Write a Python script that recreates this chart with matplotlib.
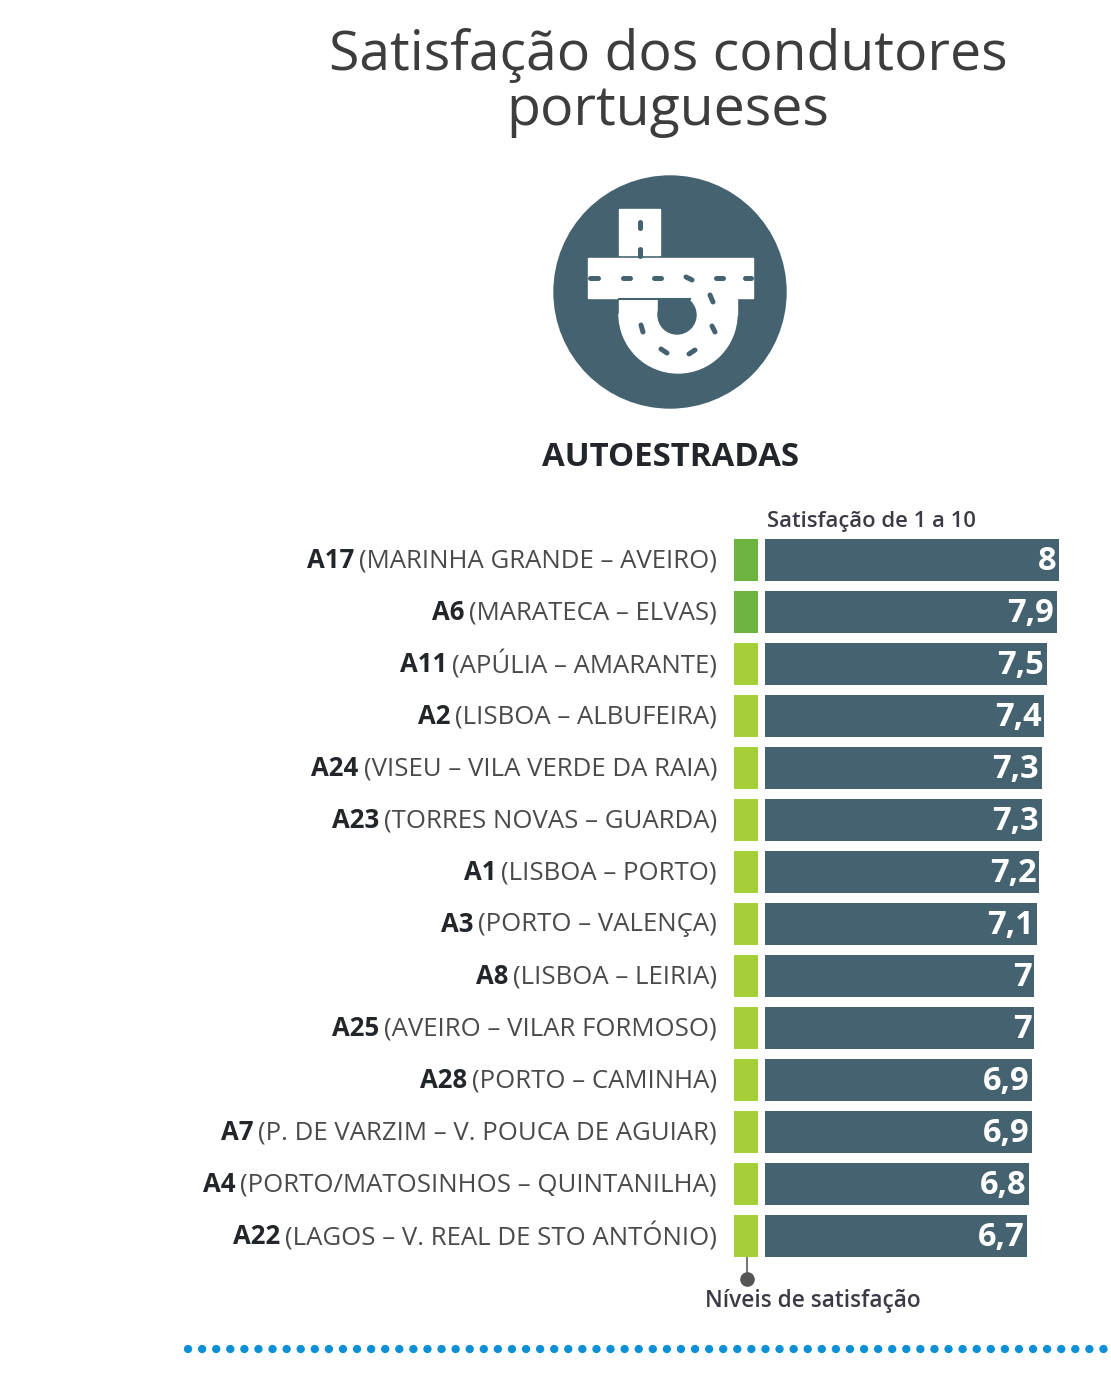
# -*- coding: utf-8 -*-
import matplotlib
matplotlib.use('Agg')
import matplotlib.pyplot as plt
from matplotlib.patches import Circle, Rectangle, Wedge

# Data
codes = ['A17', 'A6', 'A11', 'A2', 'A24', 'A23', 'A1', 'A3', 'A8', 'A25', 'A28', 'A7', 'A4', 'A22']
routes = ['(MARINHA GRANDE – AVEIRO)', '(MARATECA – ELVAS)', '(APÚLIA – AMARANTE)',
          '(LISBOA – ALBUFEIRA)', '(VISEU – VILA VERDE DA RAIA)', '(TORRES NOVAS – GUARDA)',
          '(LISBOA – PORTO)', '(PORTO – VALENÇA)', '(LISBOA – LEIRIA)',
          '(AVEIRO – VILAR FORMOSO)', '(PORTO – CAMINHA)', '(P. DE VARZIM – V. POUCA DE AGUIAR)',
          '(PORTO/MATOSINHOS – QUINTANILHA)', '(LAGOS – V. REAL DE STO ANTÓNIO)']
satisfaction = [8, 7.9, 7.5, 7.4, 7.3, 7.3, 7.2, 7.1, 7, 7, 6.9, 6.9, 6.8, 6.7]
value_labels = ['8', '7,9', '7,5', '7,4', '7,3', '7,3', '7,2', '7,1', '7', '7', '6,9', '6,9', '6,8', '6,7']
level_colors = ['#6cb33f', '#6cb33f'] + ['#a6ce39'] * 12

W, H = 1111, 1377
BLUE = '#44626f'
FONT = 'Open Sans'

fig = plt.figure(figsize=(W / 100, H / 100), dpi=100)

# full figure axes in pixels, for everything that is not a bar
bg = fig.add_axes([0, 0, 1, 1])
bg.set_xlim(0, W)
bg.set_ylim(H, 0)
bg.axis('off')


def px_axes(left, top, right, bottom):
    return fig.add_axes([left / W, 1 - bottom / H, (right - left) / W, (bottom - top) / H])


# title
bg.text(668, 83, 'Satisfação dos condutores\nportugueses', ha='center', va='center',
        fontsize=39.9, family=FONT, color='#3d3d3d', linespacing=0.98)

# icon
bg.add_patch(Circle((670, 292), 116, color=BLUE))
bg.add_patch(Rectangle((619, 209), 41, 46, color='white'))
bg.add_patch(Wedge((678, 314), 59, 0, 180, color='white'))
bg.add_patch(Rectangle((619, 296), 118, 19, color='white'))
bg.add_patch(Circle((677, 315), 19, color=BLUE))
bg.add_patch(Rectangle((658, 298), 19, 17, color=BLUE))
bg.add_patch(Rectangle((588, 258), 165, 40, color='white'))
bg.plot([619, 690], [299, 299], color=BLUE, lw=1.5)
dashes = [((590, 278), (598, 278)), ((623, 278), (630, 278)), ((654, 278), (661, 278)),
          ((686, 277), (692, 280)), ((716, 278), (723, 278)), ((745, 278), (751, 278)),
          ((710, 295), (713, 302)), ((641, 325), (643, 332)), ((715, 332), (712, 326)),
          ((661, 349), (667, 353)), ((689, 354), (695, 350)), ((640, 222), (640, 228)),
          ((640, 249), (640, 256))]
for a, b in dashes:
    bg.plot([a[0], b[0]], [a[1], b[1]], color=BLUE, lw=3.6, solid_capstyle='round')

bg.text(670, 457, 'AUTOESTRADAS', ha='center', va='center', fontsize=23.8, family=FONT,
        weight='bold', color='#22262a')
bg.text(767, 521, 'Satisfação de 1 a 10', ha='left', va='center', fontsize=15.8, family=FONT,
        weight='semibold', color='#3b3b45')

# bars: scale does not start at zero in the original, 24.6 px per point
y = list(range(len(codes)))
px_per_unit = 24.6
x_end = 8
x_start = x_end - (1059 - 765) / px_per_unit

ax = px_axes(765, 534, 1059, 1262)
ax.barh(y, [v - x_start for v in satisfaction], left=x_start, height=0.81, color=BLUE)
ax.set_xlim(x_start, x_end)
ax.set_ylim(13.5, -0.5)
ax.axis('off')
for i, v in enumerate(satisfaction):
    ax.annotate(value_labels[i], (v, i), xytext=(-2, 1.5), textcoords='offset points',
                ha='right', va='center_baseline', color='white', fontsize=23.5, family=FONT,
                weight='bold')

# green level squares
ax2 = px_axes(734, 534, 758, 1262)
ax2.barh(y, [1] * len(y), height=0.81, color=level_colors)
ax2.set_xlim(0, 1)
ax2.set_ylim(13.5, -0.5)
ax2.axis('off')

# row labels: bold code, then the route in regular
fig.canvas.draw()
rend = fig.canvas.get_renderer()
row_y = [560.5 + 52 * i for i in y]
for code, route, py in zip(codes, routes, row_y):
    t = bg.text(717, py, route, ha='right', va='center', fontsize=18.5, family=FONT,
                color='#4a4a4a')
    ext = t.get_window_extent(rend)
    bg.text(ext.x0 - 5, py, code, ha='right', va='center', fontsize=18.5, family=FONT,
            weight='bold', color='#22262a')

# callout under the last square
bg.plot([747, 747], [1256, 1279], color='#777777', lw=1.5)
bg.plot([747], [1279], 'o', color='#555555', ms=9.5)
bg.text(705, 1301, 'Níveis de satisfação', ha='left', va='center', fontsize=16.3, family=FONT,
        weight='semibold', color='#3b3b45')

# dotted rule
bg.plot([188, 1111], [1349, 1349], color='#0a90d6', lw=6, linestyle=(0, (0.01, 1.68)),
        dash_capstyle='round')

fig.savefig('out.png', dpi=100)
